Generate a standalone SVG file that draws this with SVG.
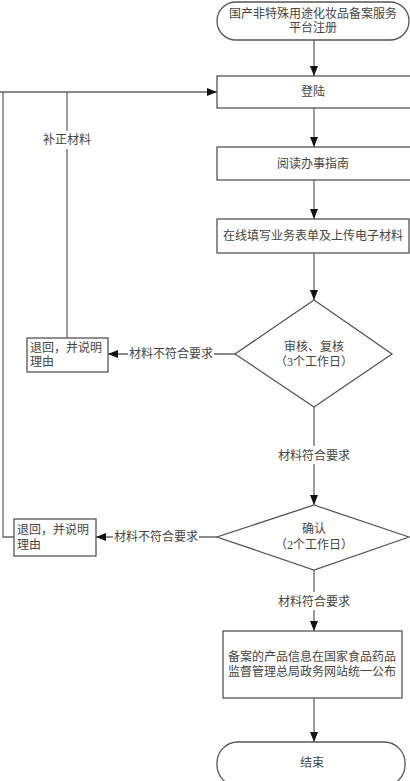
<svg xmlns="http://www.w3.org/2000/svg" width="410" height="781" viewBox="0 0 410 781">
<style>
.n{fill:#fff;stroke:#555;stroke-width:1.3}
.t{font-family:"Liberation Serif","Noto Sans CJK SC",serif;font-size:12px;fill:#444}
.c{fill:none;stroke:#666;stroke-width:1.3}
.lbl{font-family:"Liberation Serif","Noto Sans CJK SC",serif;font-size:12px;fill:#444}
</style>
<defs>
<marker id="ah" markerUnits="userSpaceOnUse" markerWidth="10" markerHeight="10" viewBox="0 0 10 10" refX="10" refY="5" orient="auto">
<path d="M0,1 L10,5 L0,9 Z" fill="#111"/>
</marker>
</defs>
<rect width="410" height="781" fill="#fff"/>
<g id="connectors">
<path class="c" d="M314,40 V76" marker-end="url(#ah)"/>
<path class="c" d="M314,108 V147" marker-end="url(#ah)"/>
<path class="c" d="M314,180 V219" marker-end="url(#ah)"/>
<path class="c" d="M314,253 V300" marker-end="url(#ah)"/>
<path class="c" d="M314,407 V505" marker-end="url(#ah)"/>
<path class="c" d="M314,570 V631" marker-end="url(#ah)"/>
<path class="c" d="M314,698 V742" marker-end="url(#ah)"/>
<path class="c" d="M235,354 H108" marker-end="url(#ah)"/>
<path class="c" d="M217,537 H96" marker-end="url(#ah)"/>
<path class="c" d="M67,338 V92"/>
<path class="c" d="M0,92 H217" marker-end="url(#ah)"/>
<path class="c" d="M14,537 H3 V92" stroke="#bbb"/>
<rect x="268" y="446" width="92" height="18" fill="#fff"/>
<text class="lbl" x="314" y="460" text-anchor="middle">材料符合要求</text>
<rect x="268" y="592" width="92" height="18" fill="#fff"/>
<text class="lbl" x="314" y="606" text-anchor="middle">材料符合要求</text>
<rect x="128" y="346" width="86" height="16" fill="#fff"/>
<text class="lbl" x="171" y="358" text-anchor="middle">材料不符合要求</text>
<rect x="113" y="529" width="86" height="16" fill="#fff"/>
<text class="lbl" x="156" y="541" text-anchor="middle">材料不符合要求</text>
<rect x="41" y="131" width="52" height="18" fill="#fff"/>
<text class="lbl" x="67" y="144" text-anchor="middle">补正材料</text>
</g>
<g id="start">
<rect class="n" x="217" y="2" width="192" height="38" rx="19" ry="19"/>
<text class="t" x="313" y="18" text-anchor="middle">国产非特殊用途化妆品备案服务</text>
<text class="t" x="313" y="32" text-anchor="middle">平台注册</text>
</g>
<g id="login">
<rect class="n" x="217" y="76" width="196" height="32"/>
<text class="t" x="313" y="96" text-anchor="middle">登陆</text>
</g>
<g id="guide">
<rect class="n" x="217" y="147" width="196" height="33"/>
<text class="t" x="313" y="168" text-anchor="middle">阅读办事指南</text>
</g>
<g id="fill">
<rect class="n" x="217" y="219" width="192" height="34"/>
<text class="t" x="313" y="240" text-anchor="middle">在线填写业务表单及上传电子材料</text>
</g>
<g id="review">
<polygon class="n" points="314,300 392,354 314,407 235,354"/>
<text class="t" x="314" y="351" text-anchor="middle">审核、复核</text>
<text class="t" x="314" y="366" text-anchor="middle">（3个工作日）</text>
</g>
<g id="return1">
<rect class="n" x="27" y="338" width="81" height="34"/>
<text class="t" x="30" y="352">退回，并说明</text>
<text class="t" x="30" y="366">理由</text>
</g>
<g id="confirm">
<polygon class="n" points="314,505 409,537 314,570 217,537"/>
<text class="t" x="314" y="533" text-anchor="middle">确认</text>
<text class="t" x="314" y="549" text-anchor="middle">（2个工作日）</text>
</g>
<g id="return2">
<rect class="n" x="14" y="519" width="82" height="37"/>
<text class="t" x="17" y="534">退回，并说明</text>
<text class="t" x="17" y="549">理由</text>
</g>
<g id="publish">
<rect class="n" x="223" y="631" width="179" height="67"/>
<text class="t" x="312" y="661" text-anchor="middle">备案的产品信息在国家食品药品</text>
<text class="t" x="312" y="676" text-anchor="middle">监督管理总局政务网站统一公布</text>
</g>
<g id="end">
<rect class="n" x="217" y="742" width="188" height="44" rx="21" ry="21"/>
<text class="t" x="312" y="767" text-anchor="middle">结束</text>
</g>
</svg>
